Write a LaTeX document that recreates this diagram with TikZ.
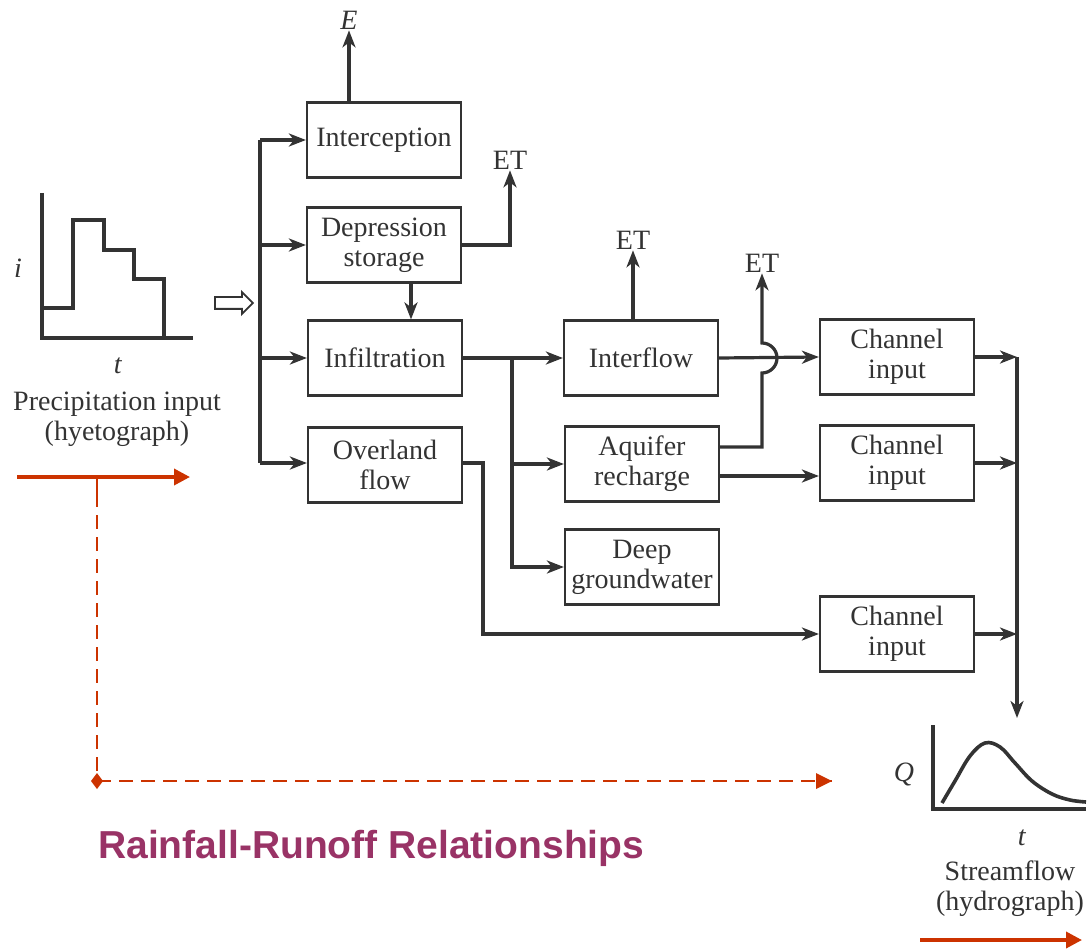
\documentclass[tikz,border=0pt]{standalone}
\usepackage{fontspec}
\setmainfont{Liberation Serif}
\newfontfamily\titlefont{Liberation Sans}
\usepackage{tikz}
\usetikzlibrary{positioning,calc,arrows.meta,shapes.arrows}
\definecolor{inkgray}{HTML}{333333}
\definecolor{runred}{HTML}{CC3300}
\definecolor{titleplum}{HTML}{993366}

\begin{document}
\begin{tikzpicture}[x=1pt,y=-1pt,
  font=\fontsize{28}{30}\selectfont,
  box/.style={draw=inkgray, line width=2.2pt, text=inkgray, minimum width=154pt, minimum height=75pt, align=center, inner sep=2pt},
  flow/.style={draw=inkgray, line width=3.2pt, -{Stealth[length=17pt,width=13pt,inset=5pt]}},
  link/.style={draw=inkgray, line width=3.2pt},
  lbl/.style={text=inkgray, inner sep=1pt, align=center},
  redarrow/.style={draw=runred, line width=3.6pt, -{Triangle[length=16pt,width=16pt]}}]
\useasboundingbox (0,0) rectangle (1089,949);

% hyetograph
\draw[link] (42,193) -- (42,338) -- (193,338);
\draw[link] (42,308) -- (73,308) -- (73,220) -- (104,220) -- (104,250) -- (134,250) -- (134,279) -- (164,279) -- (164,338);
\node[lbl] (ilab) at (18,268) {\textit{i}};
\node[lbl] (tlab1) at (118,366) {\textit{t}};
\node[lbl] (precip) at (117,419) {Precipitation input\\(hyetograph)};
\node[single arrow, draw=inkgray, line width=1.8pt, minimum height=38pt, single arrow head extend=5pt, inner sep=5pt, single arrow head indent=0pt] (inarr) at (231,303) {};

% boxes
\node[box] (intc) at (384,140) {Interception};
\node[box] (dep) at (384,245) {Depression\\storage};
\node[box] (infl) at (385,358) {Infiltration};
\node[box] (ovl) at (385,465) {Overland\\flow};
\node[box] (intf) at (641,358) {Interflow};
\node[box] (aqf) at (642,464) {Aquifer\\recharge};
\node[box] (deep) at (642,567) {Deep\\groundwater};
\node[box] (ch1) at (897,357) {Channel\\input};
\node[box] (ch2) at (897,463) {Channel\\input};
\node[box] (ch3) at (897,634) {Channel\\input};

% outflow labels
\node[lbl] (elab) at (349,20) {\textit{E}};
\node[lbl] (et1) at (510,160) {ET};
\node[lbl] (et2) at (633,240) {ET};
\node[lbl] (et3) at (762,263) {ET};

% input bus
\coordinate (b1) at (260,140);
\coordinate (b2) at (260,245);
\coordinate (b3) at (260,358);
\coordinate (b4) at (260,463);
\draw[link] (b1) -- (b4);
\draw[flow] (b1) -- (intc.west);
\draw[flow] (b2) -- (dep.west);
\draw[flow] (b3) -- (infl.west);
\draw[flow] (b4) -- (ovl.west |- b4);

% losses
\draw[flow] ([xshift=-35pt]intc.north) -- (elab.south);
\draw[flow] (dep.east) -| (et1.south);
\draw[flow] ([xshift=27pt]dep.south) -- ([xshift=26pt]infl.north);
\draw[flow] ([xshift=-8pt]intf.north) -- (et2.south);

% subsurface
\coordinate (br) at (512,358);
\draw[flow] (infl.east) -- (intf.west);
\draw[flow] (br) |- (aqf.west);
\draw[flow] (br) |- (deep.west);
\draw[flow] (intf.east) -- (ch1.west);
\coordinate (aq1) at (718,447);
\coordinate (aq2) at (718,476);
\draw[flow] (aq1) -- (762,447) -- (762,373) arc[start angle=90,end angle=-90,radius=15] -- (et3.south);
\draw[flow] (aq2) -- (ch2.west |- aq2);
\coordinate (ov) at (483,463);
\draw[flow] (ovl.east |- ov) -- (ov) |- (ch3.west);

% channel collector
\coordinate (c1) at (1017,357);
\coordinate (c2) at (1017,463);
\coordinate (c3) at (1017,634);
\coordinate (qtop) at (1017,718);
\draw[flow] (ch1.east) -- (c1);
\draw[flow] (ch2.east) -- (c2);
\draw[flow] (ch3.east) -- (c3);
\draw[flow] (c1) -- (qtop);

% hydrograph
\draw[link] (933,725) -- (933,809) -- (1086,809);
\draw[link, line width=3.6pt] plot[smooth, tension=0.6] coordinates {(942,803) (955,781) (970,756) (985,743) (1000,747) (1015,763) (1032,781) (1052,794) (1070,800) (1086,802)};
\node[lbl] (qlab) at (904,774) {\textit{Q}};
\node[lbl] (tlab2) at (1022,838) {\textit{t}};
\node[lbl] (stream) at (1010,889) {Streamflow\\(hydrograph)};

% red annotation arrows
\coordinate (r0) at (17,477);
\coordinate (r1) at (190,477);
\coordinate (rk) at (97,477);
\coordinate (rt) at (97,493);
\coordinate (rd) at (97,781);
\coordinate (re) at (832,781);
\draw[redarrow] (r0) -- (r1);
\draw[draw=runred, line width=2.6pt] (rk) -- (rt);
\draw[draw=runred, line width=2.4pt, dash pattern=on 14pt off 8pt] (rt) -- (rd);
\draw[draw=runred, line width=2.6pt, dash pattern=on 14pt off 8pt] (rd) -- (re);
\fill[runred] (91,781) -- (97,773) -- (103,781) -- (97,789) -- cycle;
\fill[runred] (832,781) -- (816,773) -- (816,789) -- cycle;
\coordinate (s0) at (920,940);
\coordinate (s1) at (1082,940);
\draw[redarrow] (s0) -- (s1);

\node[anchor=west, text=titleplum, font=\titlefont\bfseries\fontsize{39}{44}\selectfont, inner sep=0pt] (title) at (98,848) {Rainfall-Runoff Relationships};
\end{tikzpicture}
\end{document}
